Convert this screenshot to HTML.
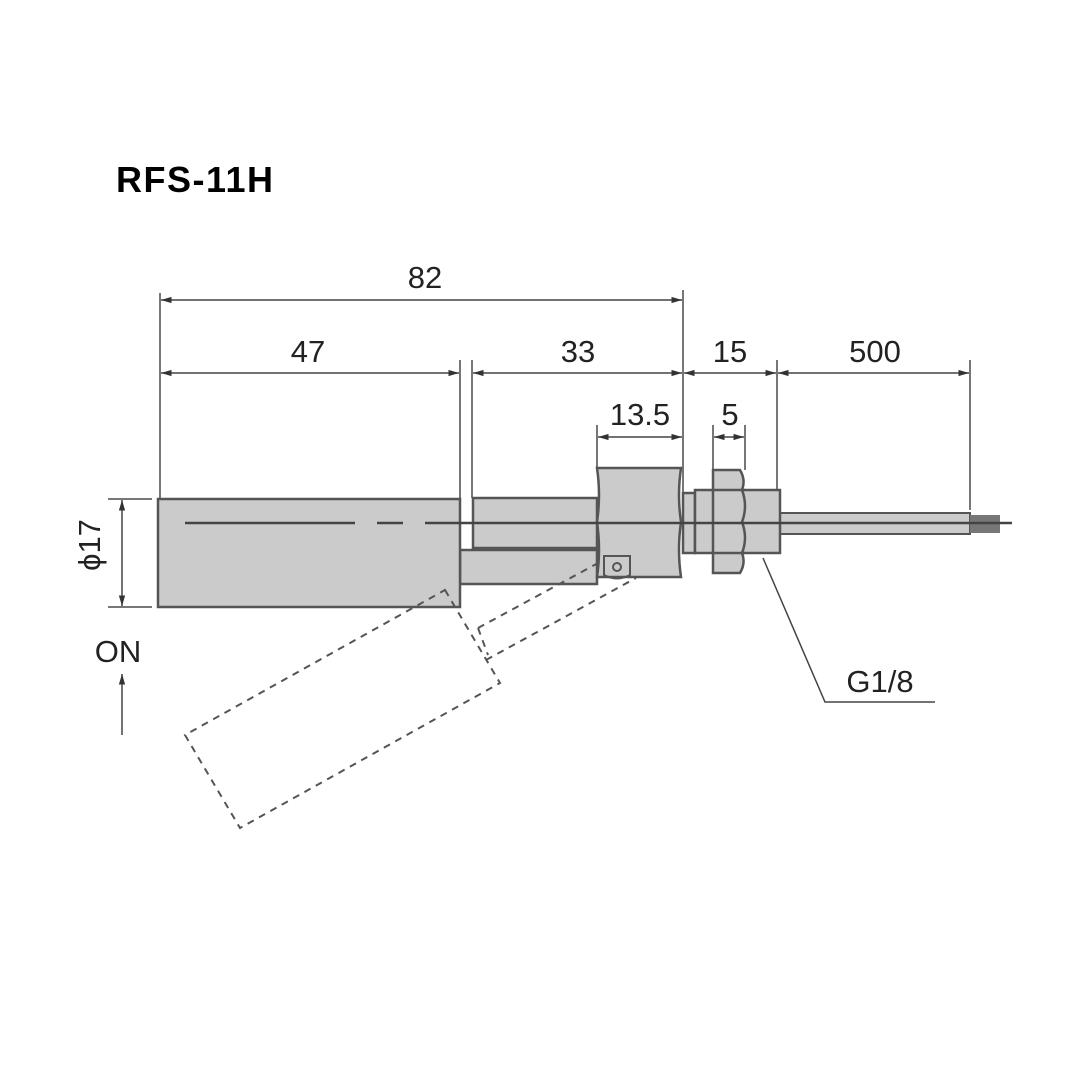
<!DOCTYPE html>
<html><head><meta charset="utf-8"><style>
html,body{margin:0;padding:0;background:#fff;}
svg{display:block;}
text{font-family:"Liberation Sans",sans-serif;fill:#222;}
</style></head><body>
<svg width="1080" height="1080" viewBox="0 0 1080 1080" xmlns="http://www.w3.org/2000/svg">
<defs>
<marker id="a" viewBox="0 0 10 10" refX="10" refY="5" markerWidth="7" markerHeight="7" orient="auto-start-reverse"><path d="M0,2 L10,5 L0,8z" fill="#333"/></marker>
</defs>
<text x="116" y="192" font-size="36" font-weight="bold" letter-spacing="1.5" style="fill:#000">RFS-11H</text>

<g stroke="#777" stroke-width="2" fill="none">
<line x1="160" y1="293" x2="160" y2="499"/>
<line x1="460" y1="360" x2="460" y2="499"/>
<line x1="472" y1="360" x2="472" y2="498"/>
<line x1="683" y1="290" x2="683" y2="495"/>
<line x1="777" y1="360" x2="777" y2="490"/>
<line x1="970" y1="360" x2="970" y2="510"/>
<line x1="597" y1="425" x2="597" y2="468"/>
<line x1="713" y1="425" x2="713" y2="470"/>
<line x1="745" y1="425" x2="745" y2="470"/>
<line x1="108" y1="499" x2="152" y2="499"/>
<line x1="108" y1="607" x2="152" y2="607"/>
</g>
<g stroke="#444" stroke-width="1.5" fill="none" marker-start="url(#a)" marker-end="url(#a)">
<line x1="161" y1="300" x2="682" y2="300"/>
<line x1="161" y1="373" x2="459" y2="373"/>
<line x1="473" y1="373" x2="682" y2="373"/>
<line x1="684" y1="373" x2="776" y2="373"/>
<line x1="778" y1="373" x2="969" y2="373"/>
<line x1="598" y1="437" x2="682" y2="437"/>
<line x1="714" y1="437" x2="744" y2="437"/>
<line x1="122" y1="500" x2="122" y2="606"/>
</g>
<line x1="122" y1="735" x2="122" y2="674" stroke="#444" stroke-width="1.5" marker-end="url(#a)"/>
<g font-size="31" text-anchor="middle">
<text x="425" y="288">82</text>
<text x="308" y="362">47</text>
<text x="578" y="362">33</text>
<text x="730" y="362">15</text>
<text x="875" y="362">500</text>
<text x="640" y="425">13.5</text>
<text x="730" y="425">5</text>
<text x="118" y="662">ON</text>
<text x="880" y="692">G1/8</text>
<text transform="translate(100,545) rotate(-90)">ϕ17</text>
</g>

<g stroke="#555" stroke-width="2.5" fill="#cbcbcb">
<rect x="460" y="550" width="137" height="34"/>
<rect x="473" y="498" width="124" height="50"/>
<rect x="158" y="499" width="302" height="108"/>
<rect x="775" y="513" width="195" height="21" stroke-width="2"/>
<rect x="683" y="493" width="12" height="60"/>
<rect x="695" y="490" width="85" height="63"/>
<path d="M597,468 H681 Q677,495 681,522 Q677,550 681,577 H597 Q601,550 597,522 Q601,495 597,468z"/>
<path d="M713,470 H740 Q746,480 742,490 Q748,506 742,522 Q748,538 742,553 Q746,563 740,573 H713z"/>
<line x1="713" y1="490" x2="745" y2="490"/>
<line x1="713" y1="553" x2="745" y2="553"/>
<path d="M604,556 H630 V575 Q617,582 604,575z" fill="none" stroke-width="2"/>
<circle cx="617" cy="567" r="4" fill="none" stroke-width="2"/>
</g>
<rect x="970" y="515" width="30" height="18" fill="#777"/>
<line x1="185" y1="523" x2="1012" y2="523" stroke="#444" stroke-width="2.5" stroke-dasharray="170 22 26 22 1000 0"/>

<g stroke="#555" stroke-width="2" fill="none" stroke-dasharray="7 6">
<polygon points="445,590 500,683 240,828 185,735"/>
<polyline points="478,628 600,562"/>
<polyline points="486,660 636,578"/>
<line x1="478" y1="628" x2="488" y2="655"/>
</g>
<polyline points="763,558 825,702 935,702" stroke="#444" stroke-width="1.5" fill="none"/>
</svg>
</body></html>
